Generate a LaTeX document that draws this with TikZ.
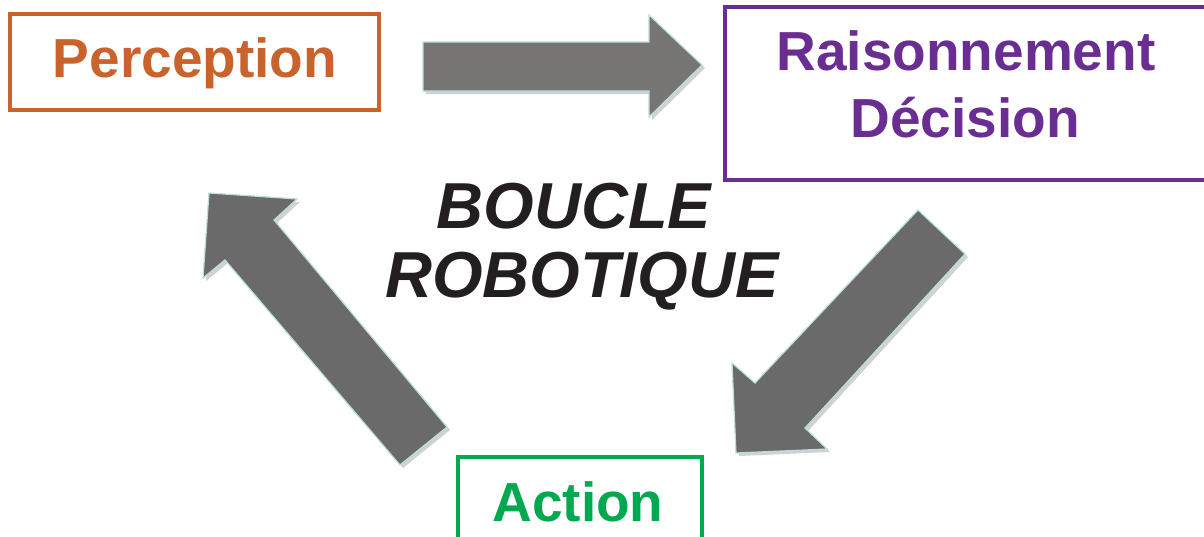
\documentclass[tikz,border=0pt]{standalone}
\usepackage{fontspec}
\setmainfont{Liberation Sans}
\definecolor{perc}{HTML}{C9622B}
\definecolor{rais}{HTML}{6A2D91}
\definecolor{act}{HTML}{00A94F}
\definecolor{titlecol}{HTML}{231F20}
\definecolor{arrgray}{HTML}{6A6A6A}
\definecolor{arrgrayA}{HTML}{777474}
\definecolor{arredge}{HTML}{B8E0DC}
\begin{document}
\begin{tikzpicture}[x=1pt,y=-1pt,
  boxframe/.style={draw, line width=3.2pt, inner sep=0pt, fill=white},
  label/.style={anchor=base, inner sep=0pt, font=\bfseries\fontsize{55}{60}\selectfont},
  title/.style={anchor=base, inner sep=0pt, text=titlecol, font=\bfseries\itshape\fontsize{65}{70}\selectfont},
  blockarrow/.style={fill=arrgray, draw=arredge, line width=1.2pt, line join=miter},
  arrshadow/.style={fill=black, opacity=0.18, draw=none}
]
\useasboundingbox (0,0) rectangle (1204,536);
\clip (0,0) rectangle (1204,536);
% boxes
\draw[boxframe, draw=perc] (10,14) rectangle (379,110);
\draw[boxframe, draw=rais] (725,7) rectangle (1215,180);
\draw[boxframe, draw=act] (458,457) rectangle (702,545);
% labels
\node[label, text=perc] (tperc) at (195,77) {Perception};
\node[label, text=rais] (trais1) at (966,70) {Raisonnement};
\node[label, text=rais] (trais2) at (965,137) {Décision};
\node[label, text=act] (tact) at (578,521) {Action};
\node[title] (tb1) at (574,228) {BOUCLE};
\node[title] (tb2) at (582,297) {ROBOTIQUE};
% arrow 1: Perception -> Raisonnement
\coordinate (a1) at (423,42);
\begin{scope}[shift={(3,3)}]
\fill[arrshadow] (423,42) -- (649,42) -- (649,15) -- (702,65) -- (649,117) -- (649,91) -- (423,91) -- cycle;
\end{scope}
\draw[blockarrow, fill=arrgrayA] (a1) -- (649,42) -- (649,15) -- (702,65) -- (649,117) -- (649,91) -- (423,91) -- cycle;
% arrow 2: Raisonnement -> Action
\coordinate (a2) at (918,210);
\begin{scope}[shift={(3,3)}]
\fill[arrshadow] (918,210) -- (965,254) -- (805,428) -- (827,449) -- (736,453) -- (732,363) -- (755,383) -- cycle;
\end{scope}
\draw[blockarrow] (a2) -- (965,254) -- (805,428) -- (827,449) -- (736,453) -- (732,363) -- (755,383) -- cycle;
% arrow 3: Action -> Perception
\coordinate (a3) at (447,427);
\begin{scope}[shift={(3,3)}]
\fill[arrshadow] (447,427) -- (274,220) -- (297,199) -- (209,193) -- (203,278) -- (225,260) -- (400,465) -- cycle;
\end{scope}
\draw[blockarrow] (a3) -- (274,220) -- (297,199) -- (209,193) -- (203,278) -- (225,260) -- (400,465) -- cycle;
\end{tikzpicture}
\end{document}
